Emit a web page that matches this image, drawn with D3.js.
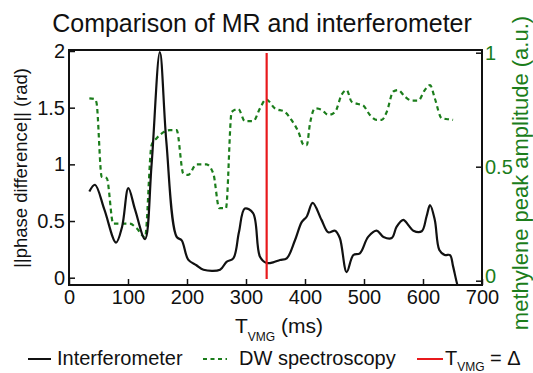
<!DOCTYPE html>
<html><head><meta charset="utf-8">
<script src="https://cdn.jsdelivr.net/npm/d3@7"></script>
<style>body{margin:0;background:#fff}svg{display:block;font-family:"Liberation Sans",Arial,sans-serif}</style>
</head><body><svg id="c" width="533" height="373"></svg>
<script>
const interfT = [34.5,44,60,79.7,90,100.6,112,128.8,140,154,165,182.5,191,202,216,228,256,267,278.5,288,298,312,323.7,335,346,357.6,369,383,394.4,403,413,428,439.5,451,459,470.6,482,493,507,521.5,533,547,555.4,566.6,575,583.6,597.8,606,611.9,620,627.7,637,645.8,651,660,664];
const interfV = [0.76,0.82,0.6,0.31,0.45,0.79,0.6,0.34,1.0,1.99,1.2,0.36,0.33,0.16,0.11,0.07,0.07,0.14,0.17,0.4,0.61,0.57,0.185,0.13,0.135,0.156,0.17,0.33,0.49,0.54,0.66,0.51,0.40,0.415,0.35,0.05,0.20,0.215,0.36,0.415,0.36,0.35,0.45,0.51,0.465,0.415,0.41,0.54,0.64,0.51,0.245,0.2,0.2,0.10,-0.09,-0.12];
const dwT = [34.5,44,46.7,55.4,64,75,103,114.7,128.8,140,148.6,171,182.5,193.7,202,216,233,244.6,254.7,266,275.7,287,298,312.4,323.7,334,349,366,377,388.7,398,403,408.5,417,428,439.5,451,462,470.6,479,490,498,510,521.5,530,538.5,549.7,558,569.5,580.8,592,603,612,620,631.7,643,651];
const dwV = [0.80,0.796,0.78,0.456,0.45,0.25,0.25,0.23,0.19,0.595,0.625,0.66,0.66,0.47,0.464,0.51,0.51,0.47,0.318,0.318,0.74,0.753,0.70,0.70,0.756,0.795,0.756,0.74,0.705,0.654,0.595,0.595,0.69,0.756,0.75,0.727,0.74,0.815,0.836,0.785,0.775,0.77,0.727,0.705,0.705,0.74,0.83,0.836,0.807,0.79,0.79,0.836,0.858,0.80,0.712,0.708,0.705];
const xTicks = [0,100,200,300,400,500,600,700];
const yLeftTicks = [0,0.5,1,1.5,2];
const yRightTicks = [0,0.5,1];
const markerT = [335];

const svg = d3.select("#c");
const L=69, R=482, T=50, B=285;
const green="#1b7d1b";
const FONT="Liberation Sans, Arial, sans-serif";
const x = d3.scaleLinear().domain([0,700]).range([L,R]);
const yL = d3.scaleLinear().domain([0,2]).range([277.7,51]);
const yR = d3.scaleLinear().domain([0,1]).range([280.7,52.7]);

svg.append("defs").append("clipPath").attr("id","clip").append("rect")
  .attr("x",L).attr("y",T).attr("width",R-L).attr("height",B-T);

const g = svg.append("g").attr("clip-path","url(#clip)");
const lineL = d3.line().x(d=>x(d[0])).y(d=>yL(d[1])).curve(d3.curveCatmullRom.alpha(0.5));
const lineR = d3.line().x(d=>x(d[0])).y(d=>yR(d[1])).curve(d3.curveMonotoneX);

g.append("path").datum(dwT.map((t,i)=>[t,dwV[i]])).attr("d",lineR)
  .attr("fill","none").attr("stroke",green).attr("stroke-width",2.2).attr("stroke-dasharray","4.5,3.5");
g.append("path").datum(interfT.map((t,i)=>[t,interfV[i]])).attr("d",lineL)
  .attr("fill","none").attr("stroke","#111").attr("stroke-width",2.2);
markerT.forEach(m=>{
  svg.append("line").attr("x1",x(m)).attr("x2",x(m)).attr("y1",53).attr("y2",279)
    .attr("stroke","#e8191c").attr("stroke-width",2.2);
});

svg.append("rect").attr("x",L).attr("y",T).attr("width",R-L).attr("height",B-T)
  .attr("fill","none").attr("stroke","#111").attr("stroke-width",2);

const ax = svg.append("g").attr("transform",`translate(0,${B})`)
  .call(d3.axisBottom(x).tickValues(xTicks).tickSize(-6).tickPadding(5).tickFormat(d3.format("d")));
const ayl = svg.append("g").attr("transform",`translate(${L},0)`)
  .call(d3.axisLeft(yL).tickValues(yLeftTicks).tickSize(-6).tickPadding(4).tickFormat(d3.format("~g")));
const ayr = svg.append("g").attr("transform",`translate(${R},0)`)
  .call(d3.axisRight(yR).tickValues(yRightTicks).tickSize(-6).tickPadding(3).tickFormat(d3.format("~g")));
[ax,ayl,ayr].forEach(a=>{a.select(".domain").remove();a.selectAll("text").attr("font-size",20).attr("font-family",FONT);a.selectAll("line").attr("stroke-width",1.5).attr("stroke","#111");});
ax.selectAll("text").attr("fill","#111");
ayl.selectAll("text").attr("fill","#111");
ayr.selectAll("text").attr("fill",green);
ayr.selectAll(".tick").filter(d=>d===0).select("text").attr("dy","0.1em");

svg.append("text").attr("x",262).attr("y",32).attr("text-anchor","middle").attr("font-size",25).attr("fill","#111")
  .text("Comparison of MR and interferometer");
svg.append("text").attr("transform","translate(27,168) rotate(-90)").attr("text-anchor","middle").attr("font-size",18.5).attr("fill","#111")
  .text("||phase difference|| (rad)");
svg.append("text").attr("transform","translate(528,173) rotate(-90)").attr("text-anchor","middle").attr("font-size",22).attr("fill",green)
  .text("methylene peak amplitude (a.u.)");
const xl = svg.append("text").attr("x",279).attr("y",333).attr("text-anchor","middle").attr("font-size",21).attr("fill","#111");
xl.append("tspan").text("T");
xl.append("tspan").attr("font-size",12).attr("dy",8).text("VMG");
xl.append("tspan").attr("dy",-8).text(" (ms)");

const ly=365, lm=359;
const lg = svg.append("g");
lg.append("line").attr("x1",28).attr("x2",51).attr("y1",lm).attr("y2",lm).attr("stroke","#111").attr("stroke-width",2);
lg.append("text").attr("x",57).attr("y",ly).attr("font-size",20).attr("fill","#111").text("Interferometer");
lg.append("line").attr("x1",203).attr("x2",227).attr("y1",lm).attr("y2",lm).attr("stroke",green).attr("stroke-width",2).attr("stroke-dasharray","4,3.5");
lg.append("text").attr("x",239).attr("y",ly).attr("font-size",20).attr("fill","#111").text("DW spectroscopy");
lg.append("line").attr("x1",417).attr("x2",443).attr("y1",lm).attr("y2",lm).attr("stroke","#e8191c").attr("stroke-width",2);
const lt = lg.append("text").attr("x",445).attr("y",ly).attr("font-size",20).attr("fill","#111");
lt.append("tspan").text("T");
lt.append("tspan").attr("font-size",12).attr("dy",6).text("VMG");
lt.append("tspan").attr("dy",-6).text(" = Δ");
</script></body></html>
